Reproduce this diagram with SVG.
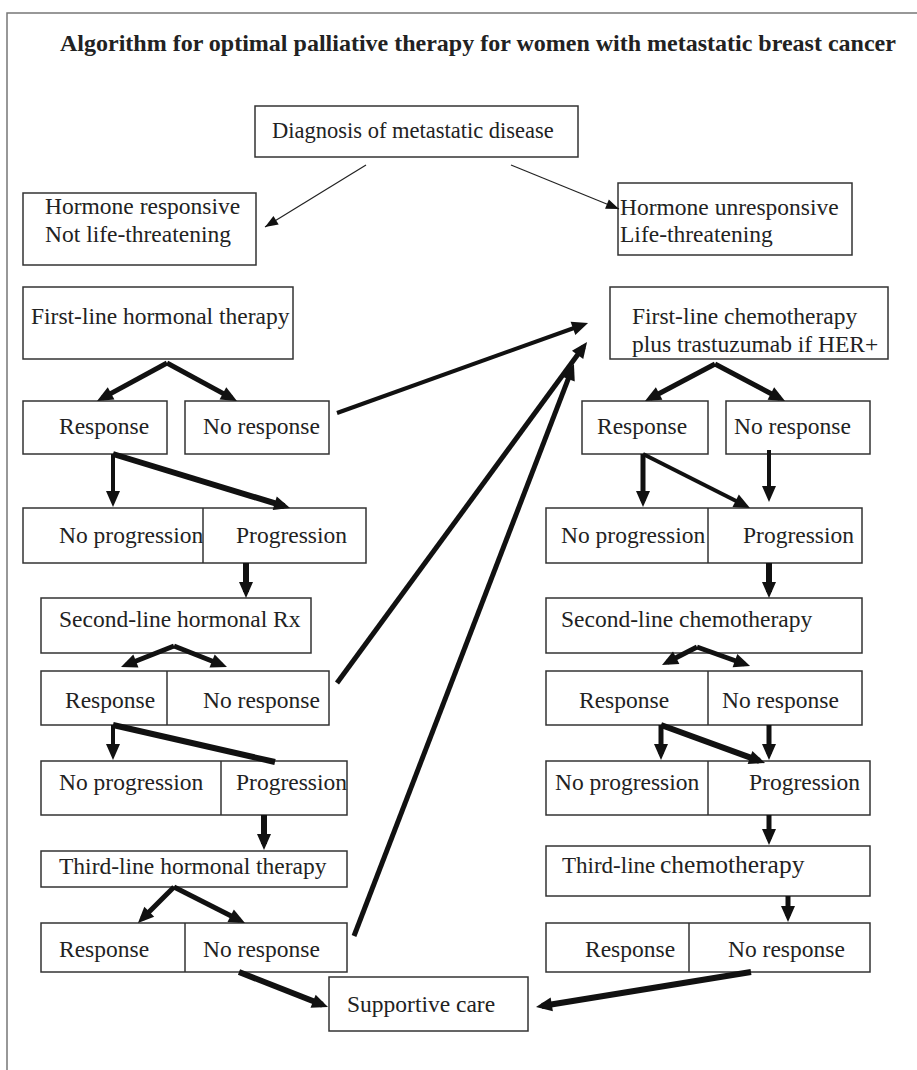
<svg xmlns="http://www.w3.org/2000/svg" width="917" height="1070" viewBox="0 0 917 1070">
<style>
.frame{stroke:#777;stroke-width:1.5;fill:none}
.box{fill:#fff;stroke:#333;stroke-width:1.5}
.div{stroke:#333;stroke-width:1.5}
.t{font-family:"Liberation Serif","Times New Roman",serif;font-size:23.5px;fill:#222}
.title{font-family:"Liberation Serif","Times New Roman",serif;font-size:24px;font-weight:bold;fill:#222}
.thin{stroke:#222;stroke-width:1.2;fill:none}
.k{stroke:#111;fill:none;stroke-linecap:butt}
.w4{stroke-width:4}
.w5{stroke-width:5}
.w6{stroke-width:6}
</style>
<defs>
<marker id="ah" markerUnits="userSpaceOnUse" markerWidth="16" markerHeight="14" refX="10" refY="7" orient="auto" overflow="visible">
<path d="M0,0 L16,7 L0,14 z" fill="#111"/>
</marker>
<marker id="ahThin" markerUnits="userSpaceOnUse" markerWidth="13" markerHeight="10" refX="13" refY="5" orient="auto" overflow="visible">
<path d="M0,0 L13,5 L0,10 z" fill="#111"/>
</marker>
</defs>
<rect width="917" height="1070" fill="#fff"/>
<path class="frame" d="M7,1070 L7,13 L917,13"/>
<text class="title" x="60" y="51">Algorithm for optimal palliative therapy for women with metastatic breast cancer</text>

<g id="diagnosis"><rect class="box" x="255" y="106" width="323" height="51"/><text class="t" x="272" y="138" style="font-size:22.5px">Diagnosis of metastatic disease</text></g>
<g id="hormone-responsive"><rect class="box" x="23" y="193" width="233" height="72"/><text class="t" x="45" y="214">Hormone responsive</text><text class="t" x="45" y="242">Not life-threatening</text></g>
<g id="hormone-unresponsive"><rect class="box" x="618" y="183" width="234" height="72"/><text class="t" x="620" y="215">Hormone unresponsive</text><text class="t" x="620" y="242">Life-threatening</text></g>
<g id="first-line-hormonal"><rect class="box" x="23" y="287" width="270" height="72"/><text class="t" x="31" y="324">First-line hormonal therapy</text></g>
<g id="first-line-chemo"><rect class="box" x="610" y="287" width="278" height="72"/><text class="t" x="632" y="324">First-line chemotherapy</text><text class="t" x="632" y="352">plus trastuzumab if HER+</text></g>

<g id="h1-response"><rect class="box" x="23" y="401" width="144" height="53"/><text class="t" x="59" y="434">Response</text></g>
<g id="h1-noresponse"><rect class="box" x="185" y="401" width="144" height="53"/><text class="t" x="203" y="434">No response</text></g>
<g id="h1-progression"><rect class="box" x="23" y="508" width="343" height="55"/><text class="t" x="59" y="543">No progression</text><text class="t" x="236" y="543">Progression</text><line class="div" x1="203" y1="508" x2="203" y2="563"/></g>
<g id="h2-therapy"><rect class="box" x="41" y="598" width="270" height="55"/><text class="t" x="59" y="627">Second-line hormonal Rx</text></g>
<g id="h2-response"><rect class="box" x="41" y="671" width="288" height="54"/><line class="div" x1="167" y1="671" x2="167" y2="725"/><text class="t" x="65" y="708">Response</text><text class="t" x="203" y="708">No response</text></g>
<g id="h2-progression"><rect class="box" x="41" y="761" width="306" height="54"/><line class="div" x1="221" y1="761" x2="221" y2="815"/><text class="t" x="59" y="790">No progression</text><text class="t" x="236" y="790">Progression</text></g>
<g id="h3-therapy"><rect class="box" x="41" y="851" width="306" height="36"/><text class="t" x="59" y="874">Third-line hormonal therapy</text></g>
<g id="h3-response"><rect class="box" x="41" y="923" width="306" height="49"/><line class="div" x1="185" y1="923" x2="185" y2="972"/><text class="t" x="59" y="957">Response</text><text class="t" x="203" y="957">No response</text></g>
<g id="supportive-care"><rect class="box" x="329" y="977" width="199" height="54"/><text class="t" x="347" y="1012">Supportive care</text></g>

<g id="c1-response"><rect class="box" x="582" y="401" width="126" height="53"/><text class="t" x="597" y="434">Response</text></g>
<g id="c1-noresponse"><rect class="box" x="726" y="401" width="144" height="53"/><text class="t" x="734" y="434">No response</text></g>
<g id="c1-progression"><rect class="box" x="546" y="508" width="316" height="55"/><text class="t" x="561" y="543">No progression</text><text class="t" x="743" y="543">Progression</text><line class="div" x1="708" y1="508" x2="708" y2="563"/></g>
<g id="c2-therapy"><rect class="box" x="546" y="598" width="316" height="55"/><text class="t" x="561" y="627">Second-line chemotherapy</text></g>
<g id="c2-response"><rect class="box" x="546" y="671" width="316" height="54"/><line class="div" x1="708" y1="671" x2="708" y2="725"/><text class="t" x="579" y="708">Response</text><text class="t" x="722" y="708">No response</text></g>
<g id="c2-progression"><rect class="box" x="546" y="761" width="324" height="54"/><line class="div" x1="708" y1="761" x2="708" y2="815"/><text class="t" x="555" y="790">No progression</text><text class="t" x="749" y="790">Progression</text></g>
<g id="c3-therapy"><rect class="box" x="546" y="846" width="324" height="50"/><text class="t" x="562" y="873"><tspan style="font-size:23px">Third-line</tspan><tspan x="660" style="font-size:25.5px">chemotherapy</tspan></text></g>
<g id="c3-response"><rect class="box" x="546" y="923" width="324" height="49"/><line class="div" x1="689" y1="923" x2="689" y2="972"/><text class="t" x="585" y="957">Response</text><text class="t" x="728" y="957">No response</text></g>

<g id="connectors">
<line class="thin" x1="366" y1="165" x2="265" y2="227" marker-end="url(#ahThin)"/>
<line class="thin" x1="511" y1="165" x2="619" y2="209" marker-end="url(#ahThin)"/>
<line class="k w5" x1="167" y1="363" x2="102.3" y2="398.1" marker-end="url(#ah)"/>
<line class="k w5" x1="167" y1="363" x2="231.7" y2="398.1" marker-end="url(#ah)"/>
<line class="k w4" x1="337" y1="413" x2="582.4" y2="325" marker-end="url(#ah)"/>
<line class="k w4" x1="113" y1="454" x2="113" y2="501" marker-end="url(#ah)"/>
<line class="k w6" x1="113" y1="454" x2="284.3" y2="506.2" marker-end="url(#ah)"/>
<line class="k w6" x1="246" y1="563" x2="246" y2="592" marker-end="url(#ah)"/>
<line class="k w5" x1="174" y1="646" x2="126.6" y2="664.8" marker-end="url(#ah)"/>
<line class="k w5" x1="174" y1="646" x2="221.4" y2="664.8" marker-end="url(#ah)"/>
<line class="k w5" x1="337" y1="683" x2="583.5" y2="346.8" marker-end="url(#ah)"/>
<line class="k w4" x1="113" y1="725" x2="113" y2="754" marker-end="url(#ah)"/>
<line class="k w6" x1="113" y1="725" x2="275" y2="762"/>
<line class="k w6" x1="264" y1="815" x2="264" y2="844" marker-end="url(#ah)"/>
<line class="k w5" x1="174" y1="887" x2="142.2" y2="918.8" marker-end="url(#ah)"/>
<line class="k w5" x1="174" y1="887" x2="239.6" y2="920.3" marker-end="url(#ah)"/>
<line class="k w5" x1="354" y1="936" x2="571.8" y2="369.6" marker-end="url(#ah)"/>
<line class="k w6" x1="239" y1="972" x2="322.4" y2="1004.8" marker-end="url(#ah)"/>
<line class="k w5" x1="715" y1="364" x2="650.3" y2="398.2" marker-end="url(#ah)"/>
<line class="k w5" x1="715" y1="364" x2="779.7" y2="398.2" marker-end="url(#ah)"/>
<line class="k w5" x1="643" y1="454" x2="643" y2="501" marker-end="url(#ah)"/>
<line class="k w4" x1="643" y1="454" x2="744.6" y2="505.3" marker-end="url(#ah)"/>
<line class="k w4" x1="769" y1="450" x2="769" y2="496" marker-end="url(#ah)"/>
<line class="k w6" x1="769" y1="563" x2="769" y2="592" marker-end="url(#ah)"/>
<line class="k w5" x1="697" y1="647" x2="667.3" y2="662.3" marker-end="url(#ah)"/>
<line class="k w5" x1="697" y1="647" x2="744.4" y2="664" marker-end="url(#ah)"/>
<line class="k w5" x1="661" y1="725" x2="661" y2="754" marker-end="url(#ah)"/>
<line class="k w6" x1="661" y1="725" x2="759.4" y2="760.9" marker-end="url(#ah)"/>
<line class="k w5" x1="769" y1="725" x2="769" y2="754" marker-end="url(#ah)"/>
<line class="k w5" x1="769" y1="815" x2="769" y2="839" marker-end="url(#ah)"/>
<line class="k w5" x1="788" y1="896" x2="788" y2="916" marker-end="url(#ah)"/>
<line class="k w6" x1="751" y1="972" x2="541.9" y2="1006" marker-end="url(#ah)"/>
</g>
</svg>
